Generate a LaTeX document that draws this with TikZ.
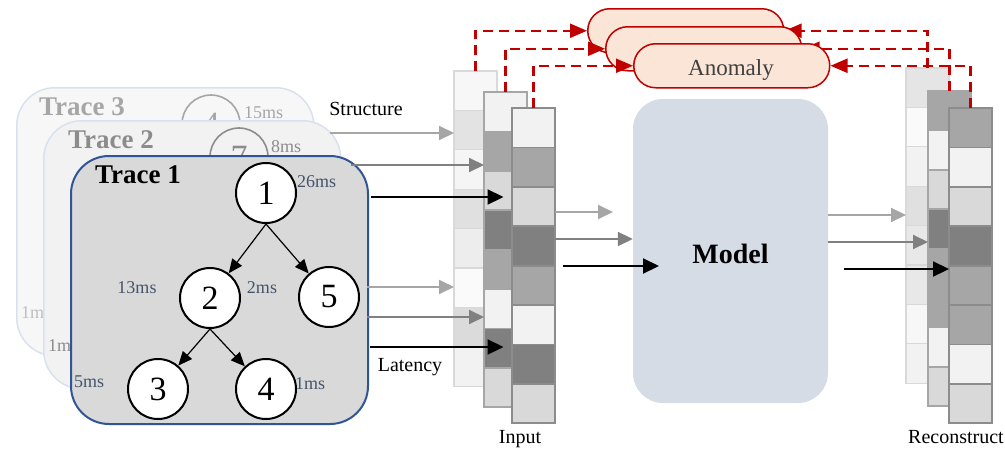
\documentclass[tikz,border=0pt]{standalone}
\usepackage{fontspec}
\setmainfont{Liberation Serif}
\usetikzlibrary{arrows.meta,calc}

\definecolor{slate}{HTML}{44546A}
\definecolor{darkred}{HTML}{C00000}
\definecolor{pillfill}{HTML}{FBE5D6}
\definecolor{modelfill}{HTML}{D6DCE5}
\definecolor{traceblue}{HTML}{2F5597}
\definecolor{paleblue}{HTML}{D9E1EF}

\newcommand\pxfont[1]{\fontsize{#1}{#1}\selectfont}

% one column of eight cells; #1 name, #2 x, #3 y, #4 border options, #5 fill colours
\newcommand\cellstack[5]{%
  \foreach \c [count=\k] in {#5} {%
    \node[cell, #4, fill=\c] (#1-\k) at (#2, {#3+(\k-1)*39.4}) {};
  }}

\tikzset{
  tracebox/.style={rectangle, rounded corners=38pt, minimum width=297pt,
    minimum height=268pt, anchor=north west, inner sep=0pt},
  tracetitle/.style={anchor=base west, inner sep=0pt, font=\pxfont{27}\bfseries},
  treenode/.style={circle, draw=black, fill=white, line width=2pt,
    minimum size=60pt, inner sep=0pt, font=\pxfont{34}},
  ghostnode/.style={circle, line width=1.6pt, minimum size=58pt, inner sep=0pt,
    font=\pxfont{34}},
  mslabel/.style={inner sep=0pt, font=\pxfont{18}, text=slate},
  plainlabel/.style={inner sep=0pt, font=\pxfont{20}},
  treearrow/.style={line width=1.2pt, -{Triangle[length=14pt,width=12pt]}},
  lightarrow/.style={draw=black!35, line width=2pt, -{Triangle[length=15pt,width=14pt]}},
  midarrow/.style={draw=black!50, line width=2pt, -{Triangle[length=15pt,width=14pt]}},
  darkarrow/.style={draw=black, line width=2.2pt, -{Triangle[length=16pt,width=15pt]}},
  cell/.style={rectangle, minimum width=43pt, minimum height=39.4pt,
    inner sep=0pt, outer sep=0pt, anchor=north west},
  pill/.style={rectangle, rounded corners=21.9pt, minimum width=196pt,
    minimum height=44pt, draw=darkred, fill=pillfill, line width=1.5pt,
    anchor=north west, inner sep=0pt},
  anomalylink/.style={draw=darkred, line width=2.2pt, dash pattern=on 10pt off 6pt,
    -{Triangle[length=17pt,width=14pt]}},
}

\begin{document}
\begin{tikzpicture}[x=1pt,y=-1pt]
\useasboundingbox (0,0) rectangle (1005,453);
\clip (0,0) rectangle (1005,453);

% ---- Trace 3 (furthest back)
\node[tracebox, fill=black!3, draw=paleblue, line width=1.5pt] (tr3) at (16,87) {};
\node[tracetitle, text=black!35] (tr3t) at (39,115) {Trace 3};
\node[mslabel, text=black!35, anchor=west] (tr3a) at (244,113) {15ms};
\node[mslabel, text=black!25, anchor=west] (tr3b) at (21,313) {1ms};
\node[ghostnode, draw=black!35, text=black!35] (tr3n) at (211,124) {4};

% ---- Trace 2
\node[tracebox, fill=black!5, draw=paleblue, line width=1.5pt] (tr2) at (43,120) {};
\node[tracetitle, text=black!45] (tr2t) at (68,148) {Trace 2};
\node[mslabel, text=black!45, anchor=west] (tr2a) at (271,147) {8ms};
\node[mslabel, text=black!45, anchor=west] (tr2b) at (48,346) {1ms};
\node[ghostnode, draw=black!45, text=black!45] (tr2n) at (239,157) {7};

% ---- Trace 1 (front)
\node[tracebox, fill=black!15, draw=traceblue, line width=2pt] (tr1) at (70,155) {};
\node[tracetitle] (tr1t) at (95,183) {Trace 1};
\node[mslabel, anchor=west] (l1) at (297,182) {26ms};
\node[mslabel] (l2a) at (137,288) {13ms};
\node[mslabel] (l2b) at (262,288) {2ms};
\node[mslabel, anchor=west] (l3) at (74,382) {5ms};
\node[mslabel, anchor=west] (l4) at (295,384) {1ms};

\node[treenode] (n1) at (266,193) {1};
\node[treenode] (n2) at (210,298) {2};
\node[treenode] (n5) at (329,297) {5};
\node[treenode] (n3) at (158,389) {3};
\node[treenode] (n4) at (266,389) {4};
\draw[treearrow] (n1.south) -- (n2);
\draw[treearrow] (n1.south) -- (n5);
\draw[treearrow] (n2.south) -- (n3);
\draw[treearrow] (n2.south) -- (n4);

\node[plainlabel, anchor=base] (structlbl) at (366,115) {Structure};
\node[plainlabel, anchor=base] (latlbl) at (410,371) {Latency};

% ---- input columns
\cellstack{inA}{454}{71}{draw=black!15, line width=1.3pt}%
  {black!3, black!11, black!4, black!12, black!7, black!2, black!14, black!5}
\cellstack{inB}{484}{92}{draw=black!35, line width=1.6pt}%
  {black!5, black!35, black!15, black!50, black!35, black!5, black!50, black!15}
\cellstack{inC}{512}{108}{draw=black!45, line width=1.8pt}%
  {black!5, black!35, black!15, black!50, black!35, black!5, black!50, black!15}

% ---- reconstructed columns
\cellstack{reA}{906}{68}{draw=black!15, line width=1.3pt}%
  {black!10, black!2, black!5, black!12, black!9, black!9, black!3, black!5}
\cellstack{reB}{928}{91}{draw=black!35, line width=1.6pt}%
  {black!35, black!5, black!15, black!50, black!35, black!35, black!5, black!15}
\cellstack{reC}{949}{108}{draw=black!45, line width=1.8pt}%
  {black!35, black!5, black!15, black!50, black!35, black!35, black!5, black!15}

% ---- model
\node[rectangle, rounded corners=30pt, fill=modelfill, minimum width=195pt,
  minimum height=304pt, inner sep=0pt] (model) at (730.5,251) {};
\node[inner sep=0pt, anchor=base, font=\pxfont{28}\bfseries] (modellbl) at (730.5,263) {Model};

% ---- anomaly flags with their dashed links
\node[pill] (pA) at (587,8) {};
\draw[anomalylink] (inA-1.north) |- (pA.west);
\draw[anomalylink] (reA-1.north) |- (pA.east);
\node[pill] (pB) at (605,26) {};
\draw[anomalylink] (inB-1.north) |- (pB.west);
\draw[anomalylink] (reB-1.north) |- (pB.east);
\node[pill] (pC) at (633,43) {};
\node[inner sep=0pt, anchor=base, font=\pxfont{23}, text=black!75] (anom) at (731,75) {Anomaly};
\draw[anomalylink] (inC-1.north) |- (pC.west);
\draw[anomalylink] (reC-1.north) |- (pC.east);

% ---- traces into the input columns
\coordinate (sL1) at (330,133);
\coordinate (sM1) at (351,165);
\coordinate (sD1) at (371,197);
\coordinate (sL2) at (367,287);
\coordinate (sM2) at (367,317);
\coordinate (sD2) at (370,347);
\draw[lightarrow] (sL1) -- (sL1 -| inA-1.west);
\draw[midarrow] (sM1) -- (sM1 -| inB-1.west);
\draw[darkarrow] (sD1) -- ($(sD1 -| inB-1.center)+(-2,0)$);
\draw[lightarrow] (sL2) -- (sL2 -| inA-1.west);
\draw[midarrow] (sM2) -- (sM2 -| inB-1.west);
\draw[darkarrow] (sD2) -- ($(sD2 -| inB-1.center)+(-2,0)$);

% ---- input columns into the model
\coordinate (qL) at (613,212);
\coordinate (qM) at (0,239);
\coordinate (qD0) at (563,266);
\coordinate (qD1) at (659,266);
\draw[lightarrow] (qL -| inC-1.east) -- (qL);
\draw[midarrow] (qM -| inC-1.east) -- (qM -| model.west);
\draw[darkarrow] (qD0) -- (qD1);

% ---- model into the reconstructed columns
\coordinate (rL) at (0,215);
\coordinate (rM) at (0,242);
\coordinate (rD) at (844,269);
\draw[lightarrow] (rL -| model.east) -- (rL -| reA-1.west);
\draw[midarrow] (rM -| model.east) -- (rM -| reB-1.west);
\draw[darkarrow] (rD) -- (rD -| reC-1.west);

\node[plainlabel, anchor=base] (inlbl) at (520,443) {Input};
\node[plainlabel, anchor=base west] (relbl) at (908,443) {Reconstruct};
\end{tikzpicture}
\end{document}
